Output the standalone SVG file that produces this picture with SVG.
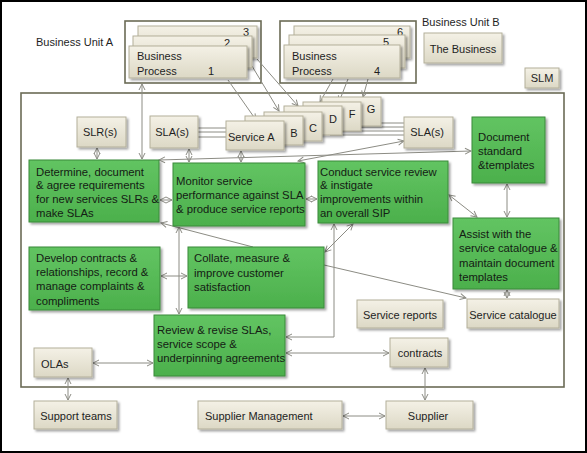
<svg xmlns="http://www.w3.org/2000/svg" width="587" height="453" viewBox="0 0 587 453">
<defs>
<style>
.t{font-family:"Liberation Sans",Arial,sans-serif;font-size:11px;fill:#1e1e1e}
.g{font-size:11.3px;fill:#142014}
.m{text-anchor:middle}
.tan{fill:url(#tanG);stroke:#b3af9a;stroke-width:1;filter:url(#sh)}
.grn{fill:url(#grnG);stroke:#3b8a3b;stroke-width:1;filter:url(#sh)}
.frame{fill:#fff;stroke:#6b6b55;stroke-width:1.6}
.c{stroke:#8c8c84;stroke-width:1;fill:none}
.a2{marker-start:url(#ah);marker-end:url(#ah)}
.a1{marker-end:url(#ah)}
</style>
<linearGradient id="tanG" x1="0" y1="0" x2="0" y2="1">
<stop offset="0" stop-color="#f4f1e6"/><stop offset="1" stop-color="#dcd8c5"/>
</linearGradient>
<linearGradient id="grnG" x1="0" y1="0" x2="0" y2="1">
<stop offset="0" stop-color="#62c462"/><stop offset="1" stop-color="#4cb04c"/>
</linearGradient>
<filter id="sh" x="-10%" y="-10%" width="130%" height="140%">
<feDropShadow dx="2" dy="2" stdDeviation="1.2" flood-color="#000" flood-opacity="0.35"/>
</filter>
<marker id="ah" viewBox="0 0 8 8" refX="7" refY="4" markerWidth="8" markerHeight="8" markerUnits="userSpaceOnUse" orient="auto-start-reverse">
<path d="M1,1 L7,4 L1,7" fill="none" stroke="#8c8c84" stroke-width="1"/>
</marker>
</defs>
<rect x="1" y="1" width="585" height="451" fill="#fff" stroke="#000" stroke-width="2"/>

<g id="frames">
<rect id="slm-frame" class="frame" x="21" y="93" width="543" height="294"/>
<rect id="bu-a-frame" class="frame" x="125" y="21" width="136" height="62"/>
<rect id="bu-b-frame" class="frame" x="280" y="21" width="136" height="62"/>
</g>

<g id="connectors">
<path class="c" d="M198,128 H226 M198,132 H226 M198,137 H226"/>
<path class="c" d="M330,123 H404 M330,127 H404 M330,131 H404 M330,135 H404"/>
<path class="c a2" d="M97,148 V159"/>
<path class="c a2" d="M189,149 V162"/>
<path class="c a2" d="M241,151 V162"/>
<path class="c a2" d="M142,84 V159"/>
<path class="c a1" d="M228,80 L256,120"/>
<path class="c a1" d="M252,66 L279,111"/>
<path class="c a1" d="M257,59 L298,106"/>
<path class="c a1" d="M333,79 L320,102"/>
<path class="c a1" d="M348,79 L339,102"/>
<path class="c a1" d="M368,79 L363,97"/>
<path class="c a2" d="M159,160 L471,151"/>
<path class="c a2" d="M298,161 L404,141"/>
<path class="c a2" d="M160,200 H172"/>
<path class="c a2" d="M306,199 H317"/>
<path class="c a2" d="M449,195 L477,217"/>
<path class="c a2" d="M507,184 V217"/>
<path class="c a2" d="M507,290 V298"/>
<path class="c a1" d="M324,265 L466,298"/>
<path class="c a1" d="M253,247 L161,223"/>
<path class="c a2" d="M179,227 V314"/>
<path class="c a2" d="M161,276 H187"/>
<path class="c a2" d="M353,224 L325,252"/>
<path class="c a2" d="M334,224 V337 H286"/>
<path class="c a2" d="M286,353 H389"/>
<path class="c a2" d="M93,363 H153"/>
<path class="c a2" d="M68,378 V400"/>
<path class="c a2" d="M425,368 V400"/>
<path class="c a2" d="M343,416 H385"/>
</g>

<text class="t" x="36" y="46">Business Unit A</text>
<text class="t" x="422" y="26">Business Unit B</text>

<g id="bp3"><rect class="tan" x="138" y="26" width="119" height="32"/><text class="t m" x="246" y="36">3</text></g>
<g id="bp2"><rect class="tan" x="133" y="36" width="119" height="32"/><text class="t m" x="227" y="47">2</text></g>
<g id="bp1"><rect class="tan" x="129" y="46" width="118" height="32"/><text class="t" x="137" y="60">Business</text><text class="t" x="137" y="75">Process</text><text class="t m" x="211" y="75">1</text></g>

<g id="bp6"><rect class="tan" x="294" y="26" width="116" height="32"/><text class="t m" x="400" y="36">6</text></g>
<g id="bp5"><rect class="tan" x="289" y="35" width="116" height="33"/><text class="t m" x="386" y="46">5</text></g>
<g id="bp4"><rect class="tan" x="284" y="45" width="116" height="33"/><text class="t" x="292" y="60">Business</text><text class="t" x="292" y="75">Process</text><text class="t m" x="377" y="75">4</text></g>

<g id="the-business"><rect class="tan" x="424" y="33" width="78" height="30"/><text class="t m" x="463" y="53">The Business</text></g>
<g id="slm"><rect class="tan" x="525" y="68" width="34" height="20"/><text class="t m" x="542" y="82">SLM</text></g>

<g id="svc-g"><rect class="tan" x="322" y="97" width="59" height="29"/><text class="t m" x="371" y="113">G</text></g>
<g id="svc-f"><rect class="tan" x="303" y="102" width="58" height="29"/><text class="t m" x="352" y="118">F</text></g>
<g id="svc-d"><rect class="tan" x="284" y="106" width="58" height="29"/><text class="t m" x="333" y="123">D</text></g>
<g id="svc-c"><rect class="tan" x="264" y="112" width="58" height="29"/><text class="t m" x="313" y="132">C</text></g>
<g id="svc-b"><rect class="tan" x="245" y="116" width="58" height="29"/><text class="t m" x="294" y="137">B</text></g>
<g id="svc-a"><rect class="tan" x="226" y="121" width="58" height="29"/><text class="t" x="228" y="141">Service A</text></g>

<g id="slr"><rect class="tan" x="77" y="117" width="49" height="30"/><text class="t m" x="100" y="136">SLR(s)</text></g>
<g id="sla-left"><rect class="tan" x="150" y="116" width="48" height="32"/><text class="t m" x="172" y="136">SLA(s)</text></g>
<g id="sla-right"><rect class="tan" x="404" y="117" width="49" height="31"/><text class="t m" x="427" y="136">SLA(s)</text></g>

<g id="determine"><rect class="grn" x="29" y="160" width="130" height="62"/>
<text class="t g" x="36" y="176">Determine, document</text>
<text class="t g" x="36" y="189">&amp; agree requirements</text>
<text class="t g" x="36" y="203">for new services SLRs &amp;</text>
<text class="t g" x="36" y="217">make SLAs</text></g>

<g id="monitor"><rect class="grn" x="173" y="163" width="132" height="63"/>
<text class="t g" x="176" y="185">Monitor service</text>
<text class="t g" x="176" y="199">performance against SLA</text>
<text class="t g" x="176" y="213">&amp; produce service reports</text></g>

<g id="conduct"><rect class="grn" x="318" y="161" width="130" height="62"/>
<text class="t g" x="320" y="176">Conduct service review</text>
<text class="t g" x="320" y="189">&amp; instigate</text>
<text class="t g" x="320" y="203">improvements within</text>
<text class="t g" x="320" y="217">an overall SIP</text></g>

<g id="document"><rect class="grn" x="472" y="117" width="73" height="66"/>
<text class="t g" x="478" y="141">Document</text>
<text class="t g" x="478" y="155">standard</text>
<text class="t g" x="478" y="169">&amp;templates</text></g>

<g id="assist"><rect class="grn" x="453" y="218" width="106" height="71"/>
<text class="t g" x="459" y="238">Assist with the</text>
<text class="t g" x="459" y="252">service catalogue &amp;</text>
<text class="t g" x="459" y="267">maintain document</text>
<text class="t g" x="459" y="281">templates</text></g>

<g id="develop"><rect class="grn" x="29" y="247" width="131" height="63"/>
<text class="t g" x="36" y="262">Develop contracts &amp;</text>
<text class="t g" x="36" y="276">relationships, record &amp;</text>
<text class="t g" x="36" y="290">manage complaints &amp;</text>
<text class="t g" x="36" y="305">compliments</text></g>

<g id="collate"><rect class="grn" x="188" y="247" width="136" height="61"/>
<text class="t g" x="194" y="262">Collate, measure &amp;</text>
<text class="t g" x="194" y="277">improve customer</text>
<text class="t g" x="194" y="291">satisfaction</text></g>

<g id="review"><rect class="grn" x="154" y="315" width="131" height="61"/>
<text class="t g" x="157" y="334">Review &amp; revise SLAs,</text>
<text class="t g" x="157" y="348">service scope &amp;</text>
<text class="t g" x="157" y="362">underpinning agreements</text></g>

<g id="service-reports"><rect class="tan" x="357" y="300" width="86" height="28"/><text class="t m" x="400" y="319">Service reports</text></g>
<g id="service-catalogue"><rect class="tan" x="467" y="299" width="92" height="29"/><text class="t m" x="513" y="319">Service catalogue</text></g>
<g id="contracts"><rect class="tan" x="390" y="338" width="58" height="29"/><text class="t m" x="420" y="357">contracts</text></g>
<g id="olas"><rect class="tan" x="34" y="348" width="58" height="29"/><text class="t" x="41" y="368">OLAs</text></g>
<g id="support-teams"><rect class="tan" x="34" y="401" width="83" height="28"/><text class="t m" x="76" y="420">Support teams</text></g>
<g id="supplier-management"><rect class="tan" x="198" y="401" width="144" height="28"/><text class="t" x="205" y="420">Supplier Management</text></g>
<g id="supplier"><rect class="tan" x="386" y="401" width="87" height="28"/><text class="t m" x="428" y="420">Supplier</text></g>
</svg>
